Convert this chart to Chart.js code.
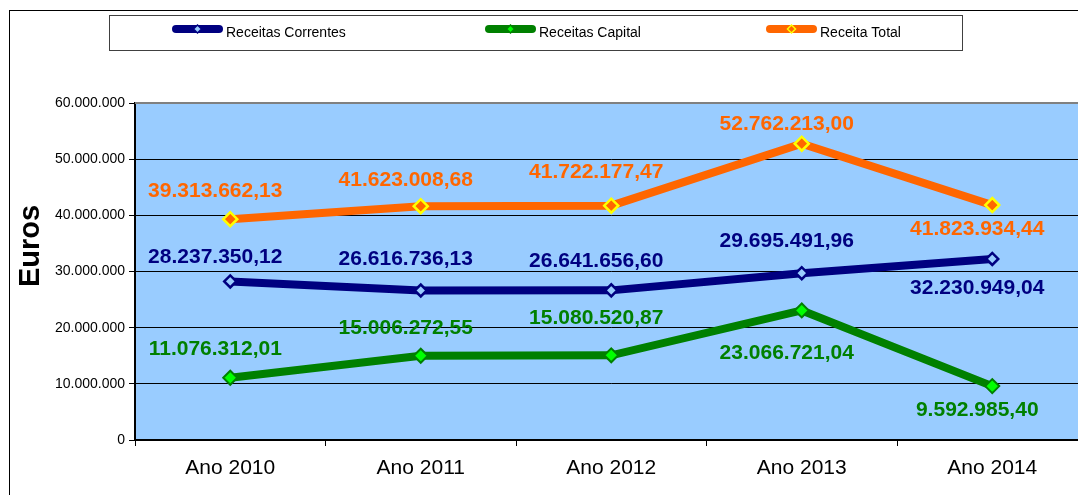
<!DOCTYPE html>
<html>
<head>
<meta charset="utf-8">
<script src="https://cdn.jsdelivr.net/npm/chart.js"></script>
<style>
  html, body { margin: 0; padding: 0; background: #fff; overflow: hidden; }
  #wrap { position: absolute; left: 0; top: 0; width: 1100px; height: 495px; }
</style>
</head>
<body>
<div id="wrap"><canvas id="myChart"></canvas></div>
<script>
const years = ['Ano 2010', 'Ano 2011', 'Ano 2012', 'Ano 2013', 'Ano 2014'];
const correntes = [28237350.12, 26616736.13, 26641656.60, 29695491.96, 32230949.04];
const capital = [11076312.01, 15006272.55, 15080520.87, 23066721.04, 9592985.40];
const total = [39313662.13, 41623008.68, 41722177.47, 52762213.00, 41823934.44];
const yTicks = [0, 10000000, 20000000, 30000000, 40000000, 50000000, 60000000];

// vertical shift of each value label from its point (px)
const correntesLabelDy = [-24, -31, -29, -32, 29];
const capitalLabelDy = [-29, -28, -37, 43, 24];
const totalLabelDy = [-28, -26, -33, -19, 24];

const FONT = 'Arial, "Liberation Sans", sans-serif';

function dots(n) {
  return String(n).replace(/\B(?=(\d{3})+(?!\d))/g, '.');
}
function euro(v) {
  const parts = v.toFixed(2).split('.');
  return dots(parts[0]) + ',' + parts[1];
}

const series = [
  {label: 'Receitas Correntes', data: correntes, color: '#000080', fill: '#99CCFF', edge: '#000080', r: 6, bw: 2.5, dy: correntesLabelDy},
  {label: 'Receitas Capital', data: capital, color: '#008000', fill: '#00FF00', edge: '#008000', r: 7, bw: 2, dy: capitalLabelDy},
  {label: 'Receita Total', data: total, color: '#FF6600', fill: '#FF6600', edge: '#FFFF00', r: 7, bw: 2.5, dy: totalLabelDy}
];

const decor = {
  id: 'decor',
  beforeDraw(chart) {
    const ctx = chart.ctx, a = chart.chartArea;
    ctx.save();
    ctx.fillStyle = '#99CCFF';
    ctx.fillRect(a.left, a.top, a.right - a.left, a.bottom - a.top);
    // outer frame
    ctx.strokeStyle = '#000';
    ctx.lineWidth = 1;
    ctx.strokeRect(9.5, 10.5, 1200, 600);
    ctx.restore();
  },
  afterDatasetsDraw(chart) {
    const ctx = chart.ctx;
    ctx.save();
    ctx.font = 'bold 21px ' + FONT;
    ctx.textAlign = 'center';
    ctx.textBaseline = 'middle';
    series.forEach((s, i) => {
      const meta = chart.getDatasetMeta(i);
      ctx.fillStyle = s.color;
      meta.data.forEach((pt, j) => {
        ctx.fillText(euro(s.data[j]), pt.x - 15, pt.y + s.dy[j]);
      });
    });
    ctx.restore();
  },
  afterDraw(chart) {
    const ctx = chart.ctx, a = chart.chartArea;
    ctx.save();
    // plot area top / right border
    ctx.strokeStyle = '#808080';
    ctx.lineWidth = 2;
    ctx.beginPath();
    ctx.moveTo(a.left, a.top);
    ctx.lineTo(a.right, a.top);
    ctx.lineTo(a.right, a.bottom);
    ctx.stroke();

    // Euros axis title
    ctx.fillStyle = '#000';
    ctx.font = 'bold 29px ' + FONT;
    ctx.textAlign = 'center';
    ctx.textBaseline = 'middle';
    ctx.translate(31, 246);
    ctx.rotate(-Math.PI / 2);
    ctx.fillText('Euros', 0, 0);
    ctx.setTransform(1, 0, 0, 1, 0, 0);

    // legend box
    ctx.strokeStyle = '#404040';
    ctx.lineWidth = 1;
    ctx.strokeRect(109.5, 15.5, 853, 35);
    const textX = [226, 539, 820];
    ctx.font = '14px ' + FONT;
    ctx.textAlign = 'left';
    series.forEach((s, i) => {
      const x1 = textX[i] - 54, x2 = textX[i] - 3, y = 29;
      ctx.strokeStyle = s.color;
      ctx.lineWidth = 8;
      ctx.lineCap = 'round';
      ctx.beginPath();
      ctx.moveTo(x1 + 4, y);
      ctx.lineTo(x2 - 4, y);
      ctx.stroke();
      const cx = (x1 + x2) / 2, r = 4;
      ctx.beginPath();
      ctx.moveTo(cx, y - r); ctx.lineTo(cx + r, y); ctx.lineTo(cx, y + r); ctx.lineTo(cx - r, y); ctx.closePath();
      ctx.fillStyle = s.fill;
      ctx.fill();
      ctx.lineWidth = 1.5;
      ctx.strokeStyle = s.edge;
      ctx.stroke();
      ctx.fillStyle = '#000';
      ctx.fillText(s.label, textX[i], 33);
    });
    ctx.restore();
  }
};

const ctx = document.getElementById('myChart');
new Chart(ctx, {
  type: 'line',
  data: {
    labels: years,
    datasets: series.map(s => ({
      label: s.label,
      data: s.data,
      borderColor: s.color,
      borderWidth: 8,
      tension: 0,
      pointStyle: 'rectRot',
      pointRadius: s.r,
      pointBackgroundColor: s.fill,
      pointBorderColor: s.edge,
      pointBorderWidth: s.bw,
      fill: false
    }))
  },
  options: {
    responsive: true,
    maintainAspectRatio: false,
    animation: false,
    devicePixelRatio: 1,
    layout: {padding: {left: 0, right: 12.5, top: 103, bottom: 0}},
    plugins: {legend: {display: false}, tooltip: {enabled: false}, title: {display: false}},
    scales: {
      x: {
        offset: true,
        grid: {offset: true, drawOnChartArea: false, color: '#000', tickLength: 6},
        border: {color: '#000', width: 2},
        ticks: {color: '#000', font: {family: FONT, size: 21}, padding: 10, maxRotation: 0},
        afterFit(scale) { scale.height = 55; }
      },
      y: {
        min: 0,
        max: 60000000,
        afterBuildTicks(scale) { scale.ticks = yTicks.map(v => ({value: v})); },
        grid: {color: '#000', lineWidth: 1, tickLength: 6},
        border: {color: '#000', width: 2},
        ticks: {color: '#000', font: {family: FONT, size: 14}, padding: 4, callback: v => dots(v)},
        afterFit(scale) { scale.width = 135; }
      }
    }
  },
  plugins: [decor]
});
</script>
</body>
</html>
